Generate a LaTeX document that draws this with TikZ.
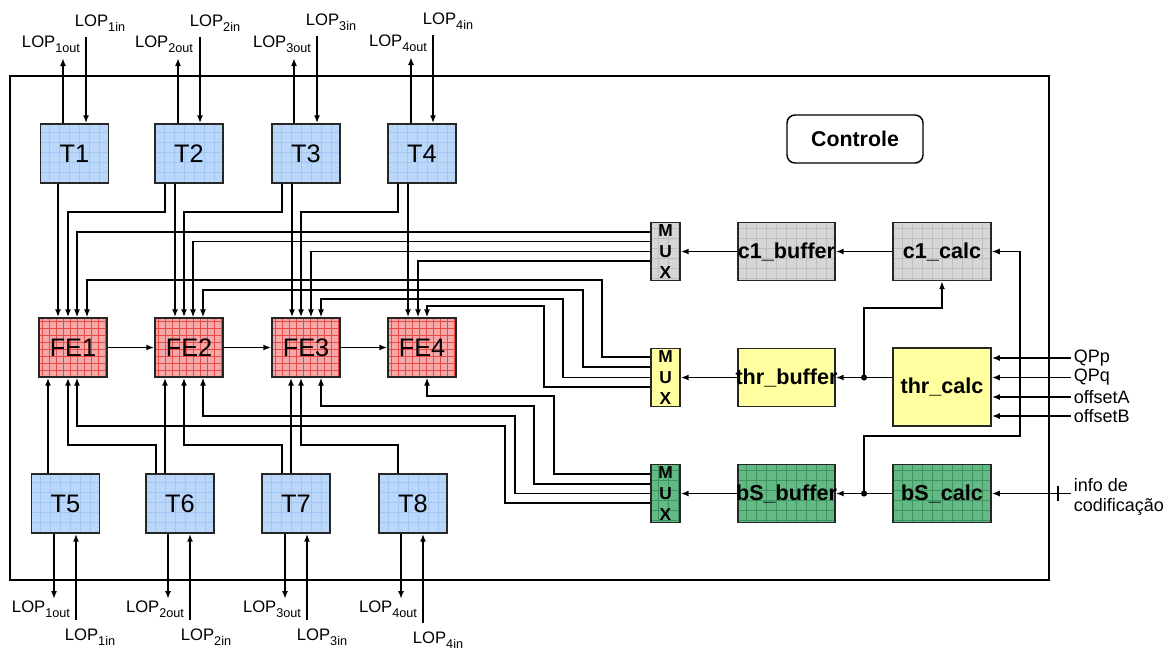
\documentclass[tikz,border=0pt]{standalone}
\usepackage{fontspec}
\setmainfont{Liberation Sans}
\usetikzlibrary{arrows.meta}
\definecolor{tfill}{RGB}{186,215,250}
\definecolor{tgrid}{RGB}{160,198,246}
\definecolor{fefill}{RGB}{246,168,168}
\definecolor{fegrid}{RGB}{232,74,74}
\definecolor{gfill}{RGB}{214,214,214}
\definecolor{ggrid}{RGB}{190,190,190}
\definecolor{yfill}{RGB}{255,255,160}
\definecolor{grfill}{RGB}{100,186,132}
\definecolor{grgrid}{RGB}{62,148,96}
\newcommand\lopl[2]{LOP\raisebox{-3.8pt}{\fontsize{9.5}{10}\selectfont #1#2}}
\newcommand\ovl[1]{\makebox[0pt]{#1}}
\begin{document}
\begin{tikzpicture}[x=0.75pt,y=-0.75pt,
  gridbox/.style n args={3}{draw=black!85, line width=1.1pt, fill=#1, inner sep=0pt,
     path picture={\draw[#2, line width=0.45pt] (path picture bounding box.south west) grid[step=#3] (path picture bounding box.north east);}},
  tbox/.style={gridbox={tfill}{tgrid}{7.5pt}, minimum width=51pt, minimum height=44.25pt, font=\fontsize{19}{22}\selectfont},
  febox/.style={gridbox={fefill}{fegrid}{5.25pt}, minimum width=51pt, minimum height=44.25pt, font=\fontsize{19}{22}\selectfont},
  mux/.style={minimum width=21.75pt, minimum height=43.5pt, align=center, font=\bfseries\fontsize{13}{15.4}\selectfont},
  blk/.style={minimum width=72.75pt, minimum height=43.5pt, font=\bfseries\fontsize{16.2}{19}\selectfont},
  gbox/.style={gridbox={gfill}{ggrid}{7.5pt}},
  ybox/.style={gridbox={yfill}{yfill}{7.5pt}},
  grbox/.style={gridbox={grfill}{grgrid}{7.5pt}},
  lbl/.style={inner sep=1pt, font=\fontsize{12.5}{14}\selectfont},
  inlbl/.style={inner sep=2pt, anchor=west, font=\fontsize{13.5}{15}\selectfont, align=left},
  wire/.style={line width=1.3pt},
  thin/.style={line width=1pt},
  arr/.style={-{Latex[length=6pt,width=4.5pt]}}
]
\useasboundingbox (0,0) rectangle (1169,650);
\draw[line width=1.1pt] (10,76) rectangle (1049,580);

% blocks
\node[tbox] (T1) at (74.5,153.5) {T1};
\node[tbox] (T2) at (189,153.5) {T2};
\node[tbox] (T3) at (306,153.5) {T3};
\node[tbox] (T4) at (422,153.5) {T4};
\node[febox] (FE1) at (73,347.5) {FE1};
\node[febox] (FE2) at (189,347.5) {FE2};
\node[febox] (FE3) at (306,347.5) {FE3};
\node[febox] (FE4) at (422,347.5) {FE4};
\node[tbox] (T5) at (65.5,503.5) {T5};
\node[tbox] (T6) at (180,503.5) {T6};
\node[tbox] (T7) at (296,503.5) {T7};
\node[tbox] (T8) at (413,503.5) {T8};

\node[gbox,mux] (MUXc) at (665.5,251.5) {M\\U\\X};
\node[ybox,mux] (MUXt) at (665.5,377.5) {M\\U\\X};
\node[grbox,mux] (MUXb) at (665.5,493.5) {M\\U\\X};

\node[gbox,blk] (c1b) at (786.5,251.5) {\ovl{c1\_buffer}};
\node[gbox,blk,minimum width=73.5pt] (c1c) at (942,251.5) {\ovl{c1\_calc}};
\node[ybox,blk] (thrb) at (786.5,377.5) {\ovl{thr\_buffer}};
\node[ybox,blk,minimum width=73.5pt,minimum height=58.5pt] (thrc) at (942,387) {\ovl{thr\_calc}};
\node[grbox,blk] (bSb) at (786.5,493.5) {\ovl{bS\_buffer}};
\node[grbox,blk,minimum width=73.5pt] (bSc) at (942,493.5) {\ovl{bS\_calc}};

\node[draw, line width=1.1pt, rounded corners=6pt, minimum width=102pt, minimum height=36pt,
      font=\bfseries\fontsize{16}{18}\selectfont] (ctl) at (855,139) {Controle};

% top LOP
\foreach \i/\xo/\xi/\lox/\loy/\lix/\liy in {1/63/86/51/54/100/33, 2/178/200/164/54/215/33, 3/294/317/282/54/331/32, 4/411/433/398/53/448/31}{
  \node[lbl,anchor=south] (lo\i) at (\lox,\loy) {\lopl{\i}{out}};
  \node[lbl,anchor=south] (li\i) at (\lix,\liy) {\lopl{\i}{in}};
  \draw[wire,arr,shorten >=3pt] (\xo,0 |- T\i.north) -- (\xo,0 |- lo\i.south);
  \draw[wire,arr,shorten <=3pt] (\xi,0 |- li\i.south) -- (\xi,0 |- T\i.north);
}

% bottom LOP
\foreach \i/\n/\xo/\xi/\lox/\lix/\liy in {5/1/54/76/41/90/627, 6/2/168/190/155/206/627, 7/3/285/307/272/322/627, 8/4/401/423/388/438/630}{
  \node[lbl,anchor=north] (lob\n) at (\lox,599) {\lopl{\n}{out}};
  \node[lbl,anchor=north] (lib\n) at (\lix,\liy) {\lopl{\n}{in}};
  \draw[wire,arr] (\xo,0 |- T\i.south) -- (\xo,0 |- lob\n.north);
  \draw[wire,arr,shorten <=5pt] (\xi,0 |- lib\n.north) -- (\xi,0 |- T\i.south);
}

% T -> FE (top)
\draw[wire,arr] (58,0 |- T1.south) -- (58,0 |- FE1.north);
\draw[wire,arr] (165,0 |- T2.south) -- (165,212) -| (68,0 |- FE1.north);
\draw[wire,arr] (175,0 |- T2.south) -- (175,0 |- FE2.north);
\draw[wire,arr] (282,0 |- T3.south) -- (282,212) -| (184,0 |- FE2.north);
\draw[wire,arr] (292,0 |- T3.south) -- (292,0 |- FE3.north);
\draw[wire,arr] (398,0 |- T4.south) -- (398,212) -| (301,0 |- FE3.north);
\draw[wire,arr] (408,0 |- T4.south) -- (408,0 |- FE4.north);

% T -> FE (bottom)
\draw[wire,arr] (48,0 |- T5.north) -- (48,0 |- FE1.south);
\draw[wire,arr] (156,0 |- T6.north) -- (156,445) -| (68,0 |- FE1.south);
\draw[wire,arr] (165,0 |- T6.north) -- (165,0 |- FE2.south);
\draw[wire,arr] (282,0 |- T7.north) -- (282,445) -| (184,0 |- FE2.south);
\draw[wire,arr] (291,0 |- T7.north) -- (291,0 |- FE3.south);
\draw[wire,arr] (398,0 |- T8.north) -- (398,445) -| (301,0 |- FE3.south);

% FE chain
\draw[wire,arr] (FE1.east) -- (FE2.west);
\draw[wire,arr] (FE2.east) -- (FE3.west);
\draw[wire,arr] (FE3.east) -- (FE4.west);

% c1 MUX outputs
\draw[thin,arr] (MUXc.west |- 0,232) -| (77,0 |- FE1.north);
\draw[thin,arr] (MUXc.west |- 0,241.5) -| (193,0 |- FE2.north);
\draw[thin,arr] (MUXc.west |- 0,251.5) -| (311,0 |- FE3.north);
\draw[thin,arr] (MUXc.west |- 0,261) -| (418,0 |- FE4.north);

% thr MUX outputs
\draw[thin,arr] (MUXt.west |- 0,357) -- (602,357) -- (602,280) -| (87,0 |- FE1.north);
\draw[thin,arr] (MUXt.west |- 0,367) -- (583,367) -- (583,290) -| (203,0 |- FE2.north);
\draw[thin,arr] (MUXt.west |- 0,377.5) -- (563,377.5) -- (563,299) -| (321,0 |- FE3.north);
\draw[thin,arr] (MUXt.west |- 0,387) -- (544,387) -- (544,306) -| (427,0 |- FE4.north);

% bS MUX outputs
\draw[thin,arr] (MUXb.west |- 0,474) -- (554,474) -- (554,396) -| (427,0 |- FE4.south);
\draw[thin,arr] (MUXb.west |- 0,484) -- (534,484) -- (534,406) -| (321,0 |- FE3.south);
\draw[thin,arr] (MUXb.west |- 0,493.5) -- (515,493.5) -- (515,416) -| (203,0 |- FE2.south);
\draw[thin,arr] (MUXb.west |- 0,503) -- (505,503) -- (505,426) -| (77,0 |- FE1.south);

% right side chain
\draw[wire,arr] (c1c.west) -- (c1b.east);
\draw[wire,arr] (c1b.west) -- (MUXc.east);
\draw[wire,arr] (thrc.west |- thrb.east) -- (thrb.east);
\draw[wire,arr] (thrb.west) -- (MUXt.east);
\draw[wire,arr] (bSc.west) -- (bSb.east);
\draw[wire,arr] (bSb.west) -- (MUXb.east);

\coordinate (d1) at (864,377.5);
\coordinate (d2) at (864,493.5);
\fill (d1) circle (2.3pt);
\fill (d2) circle (2.3pt);
\draw[thin,arr] (d1) -- (864,308) -| (c1c.south);
\draw[thin,arr] (d2) -- (864,436) -- (1020,436) -- (1020,0 |- c1c.east) -- (c1c.east);

% external inputs
\node[inlbl] (qpp) at (1071,358) {QPp};
\node[inlbl] (qpq) at (1071,377.5) {QPq};
\node[inlbl] (ofa) at (1071,397) {offsetA};
\node[inlbl] (ofb) at (1071,416) {offsetB};
\draw[wire,arr] (qpp.west) -- (thrc.east |- qpp.west);
\draw[wire,arr] (qpq.west) -- (thrc.east |- qpq.west);
\draw[wire,arr] (ofa.west) -- (thrc.east |- ofa.west);
\draw[wire,arr] (ofb.west) -- (thrc.east |- ofb.west);

\node[inlbl] (info) at (1071,497) {info de\\codificação};
\draw[wire,arr] (info.west |- bSc.east) -- (bSc.east);
\coordinate (tk) at (1058,493.5);
\draw[thin] ([yshift=5.5pt]tk) -- ([yshift=-5.5pt]tk);
\end{tikzpicture}
\end{document}
